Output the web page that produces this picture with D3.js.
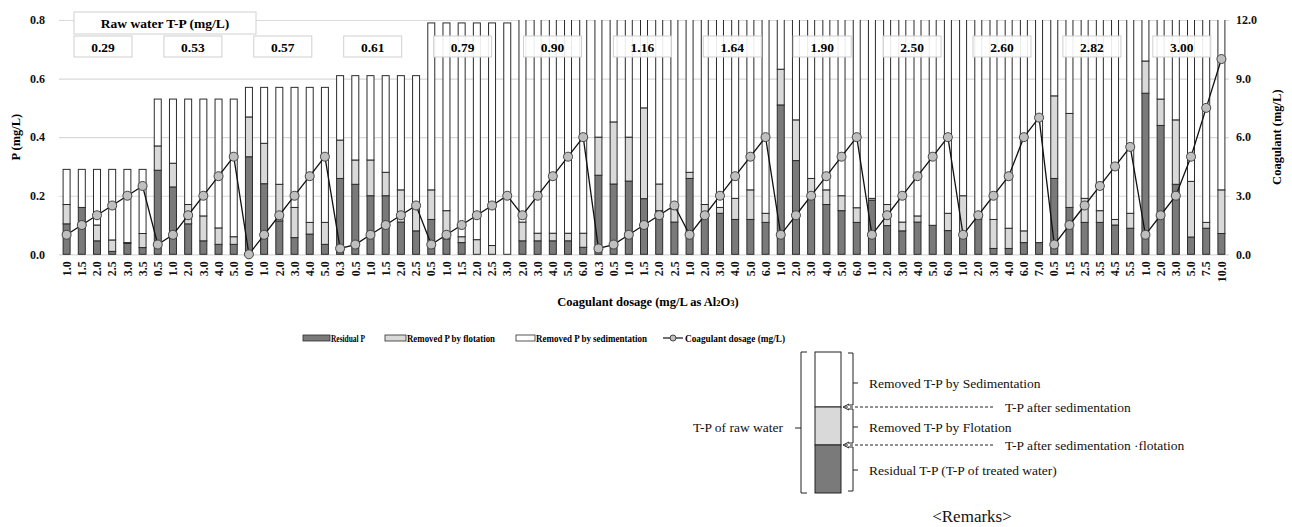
<!DOCTYPE html>
<html>
<head>
<meta charset="utf-8">
<script src="https://cdn.jsdelivr.net/npm/d3@7"></script>
<style>
  body { margin: 0; background: #fff; }
  svg text { font-family: "Liberation Serif", "Times New Roman", serif; }
</style>
</head>
<body>
<div id="chart"></div>
<script>
// raw water T-P of each test series (mg/L) and how many dosages each series has
const rawTP = [0.29, 0.53, 0.57, 0.61, 0.79, 0.90, 1.16, 1.64, 1.90, 2.50, 2.60, 2.82, 3.00];
const groupSize = [6, 6, 6, 6, 6, 5, 6, 6, 6, 6, 6, 6, 6];

// coagulant dosage of every bar (mg/L as Al2O3)
const dosage = [
  "1.0", "1.5", "2.0", "2.5", "3.0", "3.5",
  "0.5", "1.0", "2.0", "3.0", "4.0", "5.0",
  "0.0", "1.0", "2.0", "3.0", "4.0", "5.0",
  "0.3", "0.5", "1.0", "1.5", "2.0", "2.5",
  "0.5", "1.0", "1.5", "2.0", "2.5", "3.0",
  "2.0", "3.0", "4.0", "5.0", "6.0",
  "0.3", "0.5", "1.0", "1.5", "2.0", "2.5",
  "1.0", "2.0", "3.0", "4.0", "5.0", "6.0",
  "1.0", "2.0", "3.0", "4.0", "5.0", "6.0",
  "1.0", "2.0", "3.0", "4.0", "5.0", "6.0",
  "1.0", "2.0", "3.0", "4.0", "6.0", "7.0",
  "0.5", "1.5", "2.5", "3.5", "4.5", "5.5",
  "1.0", "2.0", "3.0", "5.0", "7.5", "10.0"
];

// T-P after sedimentation (top of the light part)
const afterSedP = [
  0.17, 0.16, 0.10, 0.049, 0.04, 0.071,
  0.37, 0.311, 0.17, 0.131, 0.09, 0.06,
  0.469, 0.379, 0.239, 0.16, 0.109, 0.109,
  0.39, 0.322, 0.322, 0.28, 0.22, 0.17,
  0.22, 0.149, 0.06, 0.05, 0.03, 0.0,
  0.11, 0.072, 0.072, 0.072, 0.072,
  0.40, 0.452, 0.40, 0.50, 0.24, 0.155,
  0.28, 0.17, 0.16, 0.191, 0.22, 0.14,
  0.632, 0.459, 0.259, 0.22, 0.20, 0.159,
  0.191, 0.17, 0.11, 0.131, 0.099, 0.14,
  0.20, 0.121, 0.119, 0.089, 0.08, 0.04,
  0.541, 0.481, 0.191, 0.149, 0.119, 0.14,
  0.66, 0.53, 0.459, 0.249, 0.109, 0.22
];

// residual T-P after sedimentation + flotation
const residualP = [
  0.104, 0.16, 0.046, 0.010, 0.037, 0.023,
  0.287, 0.23, 0.104, 0.046, 0.034, 0.034,
  0.333, 0.241, 0.114, 0.057, 0.069, 0.034,
  0.259, 0.239, 0.20, 0.20, 0.11, 0.08,
  0.119, 0.053, 0.04, 0.0, 0.0, 0.0,
  0.046, 0.046, 0.046, 0.046, 0.024,
  0.27, 0.24, 0.25, 0.19, 0.149, 0.11,
  0.259, 0.14, 0.14, 0.119, 0.119, 0.109,
  0.51, 0.32, 0.20, 0.17, 0.149, 0.109,
  0.185, 0.098, 0.08, 0.11, 0.099, 0.081,
  0.075, 0.121, 0.02, 0.02, 0.04, 0.04,
  0.259, 0.16, 0.109, 0.109, 0.10, 0.089,
  0.55, 0.44, 0.239, 0.059, 0.089, 0.071
];

const leftTicks = [0, 0.2, 0.4, 0.6, 0.8];
const rightTicks = [0, 3, 6, 9, 12];

const legendItems = ["Residual P", "Removed P by flotation", "Removed P by sedimentation", "Coagulant dosage (mg/L)"];

// build rows
const groupOf = [];
groupSize.forEach((n, g) => { for (let k = 0; k < n; k++) groupOf.push(g); });
const data = dosage.map((lab, i) => ({
  i, label: lab, coag: +lab, raw: rawTP[groupOf[i]], sed: afterSedP[i], res: residualP[i]
}));

const width = 1292, height = 527;
const plotL = 59, plotR = 1229, plotT = 20, plotB = 254.3;
const colDark = "#7a7a7a", colLight = "#d9d9d9", colEdge = "#2b2b2b";

const svg = d3.select("#chart").append("svg")
  .attr("width", width).attr("height", height)
  .attr("viewBox", [0, 0, width, height]);

const x = d3.scaleBand().domain(d3.range(data.length)).range([plotL, plotR])
  .paddingInner(0.54).paddingOuter(0.27);
const y = d3.scaleLinear().domain([0, 0.8]).range([plotB, plotT]);
const y2 = d3.scaleLinear().domain([0, 12]).range([plotB, plotT]);

// grid + left axis
const gl = svg.append("g").attr("transform", `translate(${plotL},0)`)
  .call(d3.axisLeft(y).tickValues(leftTicks).tickSize(-(plotR - plotL)).tickPadding(14).tickFormat(d3.format(".1f")));
gl.select(".domain").remove();
gl.selectAll("line").attr("stroke", "#d9d9d9").attr("stroke-width", 1.2);
gl.selectAll("text").attr("font-size", 12).attr("font-weight", "bold").attr("fill", "#111");

// right axis
const gr = svg.append("g").attr("transform", `translate(${plotR},0)`)
  .call(d3.axisRight(y2).tickValues(rightTicks).tickSize(0).tickPadding(7).tickFormat(d3.format(".1f")));
gr.select(".domain").remove();
gr.selectAll("text").attr("font-size", 12).attr("font-weight", "bold").attr("fill", "#111");

// x axis labels
const gx = svg.append("g").attr("transform", `translate(0,${plotB})`)
  .call(d3.axisBottom(x).tickSize(0).tickFormat(i => dosage[i]));
gx.select(".domain").remove();
gx.selectAll("text")
  .attr("font-size", 12).attr("font-weight", "bold").attr("fill", "#111")
  .attr("transform", "rotate(-90)").attr("text-anchor", "end")
  .attr("x", -7).attr("y", 0).attr("dy", "0.35em");

// bars
svg.append("clipPath").attr("id", "plotclip")
  .append("rect").attr("x", 0).attr("y", plotT).attr("width", width).attr("height", plotB - plotT + 2);

const bars = svg.append("g").attr("clip-path", "url(#plotclip)");
const segs = [];
data.forEach(d => {
  segs.push({ i: d.i, lo: 0, hi: d.res, fill: colDark });
  segs.push({ i: d.i, lo: d.res, hi: d.sed, fill: colLight });
  segs.push({ i: d.i, lo: d.sed, hi: d.raw, fill: "#fff" });
});
bars.selectAll("rect").data(segs.filter(s => s.hi - s.lo > 0.0001)).join("rect")
  .attr("x", s => x(s.i))
  .attr("width", x.bandwidth())
  .attr("y", s => y(s.hi))
  .attr("height", s => y(s.lo) - y(s.hi))
  .attr("fill", s => s.fill)
  .attr("stroke", colEdge).attr("stroke-width", 1);

// coagulant line
const cx = d => x(d.i) + x.bandwidth() / 2;
svg.append("path").datum(data)
  .attr("fill", "none").attr("stroke", "#111").attr("stroke-width", 1.3)
  .attr("d", d3.line().x(cx).y(d => y2(d.coag)));
svg.append("g").selectAll("circle").data(data).join("circle")
  .attr("cx", cx).attr("cy", d => y2(d.coag)).attr("r", 4.5)
  .attr("fill", "#bfbfbf").attr("stroke", "#444").attr("stroke-width", 1);

// raw water boxes
const boxes = svg.append("g");
boxes.append("rect").attr("x", 74).attr("y", 12).attr("width", 182).attr("height", 22)
  .attr("fill", "#fff").attr("stroke", "#d0d0d0");
boxes.append("text").attr("x", 165).attr("y", 28).attr("text-anchor", "middle")
  .attr("font-size", 13.5).attr("font-weight", "bold").text("Raw water T-P (mg/L)");
const vb = boxes.selectAll("g.vb").data(rawTP).join("g").attr("class", "vb")
  .attr("transform", (d, k) => `translate(${74 + 89.9 * k},36)`);
vb.append("rect").attr("width", 58).attr("height", 21)
  .attr("fill", "#fff").attr("fill-opacity", 0.9).attr("stroke", "#d0d0d0");
vb.append("text").attr("x", 29).attr("y", 15.5).attr("text-anchor", "middle")
  .attr("font-size", 13.5).attr("font-weight", "bold").text(d => d3.format(".2f")(d));

// axis titles
svg.append("text").attr("transform", `translate(20,${(plotT + plotB) / 2}) rotate(-90)`)
  .attr("text-anchor", "middle").attr("font-size", 12.5).attr("font-weight", "bold").text("P (mg/L)");
svg.append("text").attr("transform", `translate(1281,${(plotT + plotB) / 2}) rotate(-90)`)
  .attr("text-anchor", "middle").attr("font-size", 12.5).attr("font-weight", "bold").text("Coagulant (mg/L)");
const xt = svg.append("text").attr("x", 648).attr("y", 306).attr("text-anchor", "middle")
  .attr("font-size", 12.5).attr("font-weight", "bold");
xt.append("tspan").text("Coagulant dosage (mg/L as Al");
xt.append("tspan").attr("font-size", 8.5).text("2");
xt.append("tspan").text("O");
xt.append("tspan").attr("font-size", 8.5).text("3");
xt.append("tspan").text(")");

// legend (text squeezed like the condensed original)
const legX = [303, 385, 516, 663];
const legTextX = [331, 407, 536, 685];
const legTextLen = [34, 88, 111, 100];
const lg = svg.append("g").attr("transform", "translate(0,338)");
[colDark, colLight, "#fff"].forEach((c, k) => {
  lg.append("rect").attr("x", legX[k]).attr("y", -3).attr("width", legTextX[k] - legX[k] - 1).attr("height", 6)
    .attr("fill", c).attr("stroke", colEdge).attr("stroke-width", 0.8);
});
lg.append("line").attr("x1", legX[3]).attr("x2", legX[3] + 20).attr("y1", 0).attr("y2", 0)
  .attr("stroke", "#111").attr("stroke-width", 1.2);
lg.append("circle").attr("cx", legX[3] + 10).attr("cy", 0).attr("r", 3)
  .attr("fill", "#bfbfbf").attr("stroke", "#444");
lg.selectAll("text").data(legendItems).join("text")
  .attr("x", (d, k) => legTextX[k]).attr("y", 4)
  .attr("textLength", (d, k) => legTextLen[k]).attr("lengthAdjust", "spacingAndGlyphs")
  .attr("font-size", 11).attr("font-weight", "bold").text(d => d);

// remarks diagram
const rm = svg.append("g").attr("fill", "none").attr("stroke", "#222");
rm.append("rect").attr("x", 815).attr("y", 352).attr("width", 26).attr("height", 55).attr("fill", "#fff");
rm.append("rect").attr("x", 815).attr("y", 407).attr("width", 26).attr("height", 38).attr("fill", colLight);
rm.append("rect").attr("x", 815).attr("y", 445).attr("width", 26).attr("height", 48).attr("fill", colDark);
rm.append("path").attr("d", "M807,352 H801 V493 H807 M801,428 H795");
[[353, 405, 383], [409, 443, 427], [447, 491, 470]].forEach(([a, b, m]) => {
  rm.append("path").attr("d", `M848,${a} H853 V${b} H848 M853,${m} H858`);
});
[407, 445].forEach(yy => {
  rm.append("line").attr("x1", 993).attr("x2", 844).attr("y1", yy).attr("y2", yy)
    .attr("stroke-dasharray", "3,2");
  rm.append("path").attr("d", `M849,${yy - 3} L843,${yy} L849,${yy + 3}`);
});
const rt = svg.append("g").attr("font-size", 13.5).attr("fill", "#111");
rt.append("text").attr("x", 783).attr("y", 432).attr("text-anchor", "end").text("T-P of raw water");
rt.append("text").attr("x", 869).attr("y", 388).text("Removed T-P by Sedimentation");
rt.append("text").attr("x", 869).attr("y", 432).text("Removed T-P by Flotation");
rt.append("text").attr("x", 869).attr("y", 475).text("Residual T-P (T-P of treated water)");
rt.append("text").attr("x", 1005).attr("y", 412).text("T-P after sedimentation");
rt.append("text").attr("x", 1005).attr("y", 450).text("T-P after sedimentation \u00b7flotation");
rt.append("text").attr("x", 972).attr("y", 522).attr("text-anchor", "middle").attr("font-size", 17).text("<Remarks>");
</script>
</body>
</html>
